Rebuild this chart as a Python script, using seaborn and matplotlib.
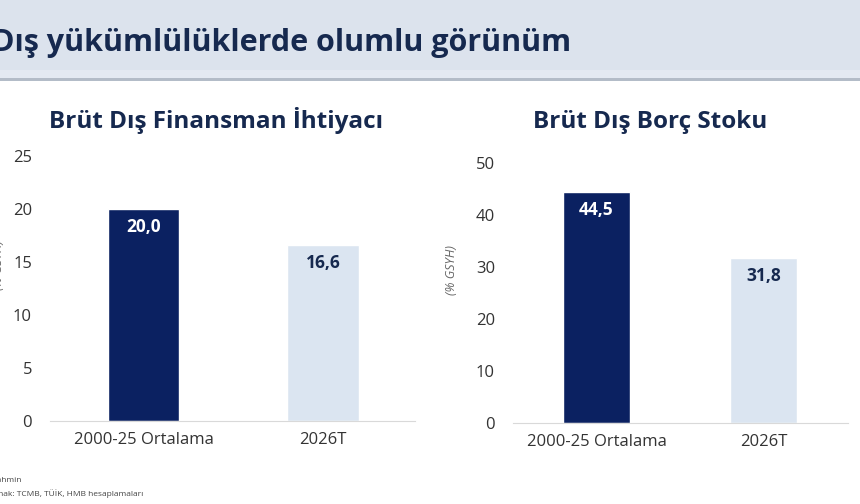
import matplotlib
matplotlib.use("Agg")
import matplotlib.pyplot as plt
import seaborn as sns
from matplotlib.patches import Rectangle

# data
categories = ["2000-25 Ortalama", "2026T"]
finansman = [20.0, 16.6]
borc = [44.5, 31.8]
finansman_labels = ["20,0", "16,6"]
borc_labels = ["44,5", "31,8"]

dark = "#0b2161"
light = "#dbe5f1"
navy_text = "#16294f"

sns.set_style("white")
plt.rcParams["font.family"] = ["Open Sans", "DejaVu Sans"]

W, H = 860, 504
fig = plt.figure(figsize=(8.6, 5.04), dpi=100)
fig.patch.set_facecolor("white")

# header band
fig.patches.append(Rectangle((0, 1 - 70 / H), 1, 70 / H, transform=fig.transFigure,
                             facecolor="#dce3ed", edgecolor="none", zorder=0))
fig.patches.append(Rectangle((0, 1 - 78 / H), 1, 8 / H, transform=fig.transFigure,
                             facecolor="#e3e9f2", edgecolor="none", zorder=0))
fig.patches.append(Rectangle((0, 1 - 81 / H), 1, 3 / H, transform=fig.transFigure,
                             facecolor="#b3bcc8", edgecolor="none", zorder=0))
fig.text(-8 / W, 1 - 43 / H, "Dış yükümlülüklerde olumlu görünüm", fontsize=22,
         fontweight="bold", color=navy_text, va="center", ha="left")


def draw(ax, values, labels, ymax, step, lab_xy):
    sns.barplot(x=categories, y=values, hue=categories, palette=[dark, light],
                width=0.4, legend=False, ax=ax, saturation=1)
    ax.set_ylim(0, ymax)
    ax.set_yticks(range(0, ymax + 1, step))
    ax.tick_params(axis="both", length=0, labelsize=12, colors="#333333")
    ax.tick_params(axis="y", pad=13)
    ax.tick_params(axis="x", pad=8)
    for s in ["top", "right", "left"]:
        ax.spines[s].set_visible(False)
    ax.spines["bottom"].set_color("#d9d9d9")
    ax.set_ylabel("(% GSYH)", fontsize=9, style="italic", color="#666666")
    ax.yaxis.set_label_coords(*lab_xy)
    ax.set_xlabel("")
    for i, (v, t) in enumerate(zip(values, labels)):
        ax.text(i, v - ymax * 0.035, t, ha="center", va="top", fontsize=12.5,
                fontweight="bold", color="white" if i == 0 else navy_text)


ax1 = fig.add_axes([50 / W, 1 - 421 / H, 365 / W, 265 / H])
draw(ax1, finansman, finansman_labels, 25, 5, (-0.123, 0.589))
ax1.set_xlim(-0.52, 1.51)

ax2 = fig.add_axes([513 / W, 1 - 423 / H, 335 / W, 260 / H])
draw(ax2, borc, borc_labels, 50, 10, (-0.164, 0.588))
ax2.set_xlim(-0.5, 1.506)

fig.text(216 / W, 1 - 120 / H, "Brüt Dış Finansman İhtiyacı", fontsize=17.5,
         fontweight="bold", color=navy_text, ha="center", va="center")
fig.text(650 / W, 1 - 122 / H, "Brüt Dış Borç Stoku", fontsize=17.5,
         fontweight="bold", color=navy_text, ha="center", va="center")

fig.text(-17 / W, 1 - 481 / H, "T: Tahmin", fontsize=6, color="#444444", va="center")
fig.text(-16 / W, 1 - 494 / H, "Kaynak: TCMB, TÜİK, HMB hesaplamaları", fontsize=6,
         color="#444444", va="center")

fig.savefig("out.png", dpi=100)
